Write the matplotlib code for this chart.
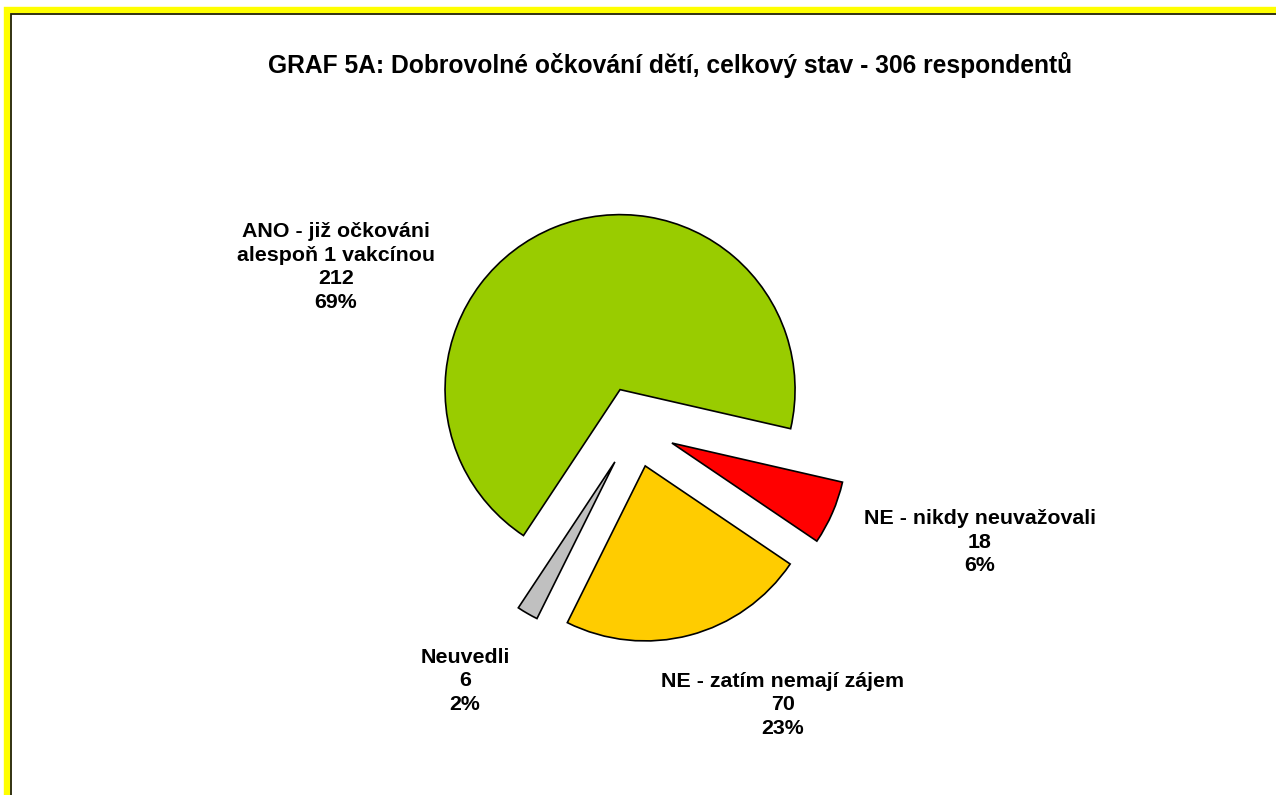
import matplotlib.pyplot as plt
from matplotlib.patches import Rectangle

plt.rcParams['font.family'] = ['Liberation Sans', 'DejaVu Sans']

TITLE = 'GRAF 5A: Dobrovolné očkování dětí, celkový stav - 306 respondentů'
categories = ['ANO - již očkováni\nalespoň 1 vakcínou', 'NE - nikdy neuvažovali',
              'NE - zatím nemají zájem', 'Neuvedli']
counts = [212, 18, 70, 6]
colors = ['#99CC00', '#FF0000', '#FFCC00', '#C0C0C0']

# label centres in figure pixels (from top-left)
label_pos = [(336, 267), (980, 542), (783, 705), (465, 681)]

W, H = 1276, 795
CX, CY, R = 635, 427, 175  # pie centre and radius in pixels

fig = plt.figure(figsize=(W / 100, H / 100), dpi=100)
ax = fig.add_axes([0, 0, 1, 1])

total = sum(counts)
ax.pie(counts, colors=colors, explode=[0.23] * len(counts), startangle=236.5,
       counterclock=False, radius=1,
       wedgeprops=dict(edgecolor='black', linewidth=1.2))

ax.set_xlim(-CX / R, (W - CX) / R)
ax.set_ylim(-(H - CY) / R, CY / R)
ax.set_aspect('equal')
ax.axis('off')

for name, n, (px, py) in zip(categories, counts, label_pos):
    txt = f'{name}\n{n}\n{round(100 * n / total)}%'
    ax.text((px - CX) / R, (CY - py) / R, txt, ha='center', va='center',
            fontsize=15.4, fontweight='bold', linespacing=1.32)

fig.text(670 / W, 1 - 65 / H, TITLE, ha='center', va='center',
         fontsize=17.7, fontweight='bold')

# yellow frame along the top and left edge, with a dark inner line
fig.patches.append(Rectangle((7.2 / W, -0.1), 1.2, 1 - 10.2 / H + 0.1, transform=fig.transFigure,
                             facecolor='none', edgecolor='#FFFF00', linewidth=4.6))
fig.patches.append(Rectangle((11 / W, -0.1), 1.2, 1 - 14 / H + 0.1, transform=fig.transFigure,
                             facecolor='none', edgecolor='#222200', linewidth=1.3))

fig.savefig('out.png', dpi=100, facecolor='white')
